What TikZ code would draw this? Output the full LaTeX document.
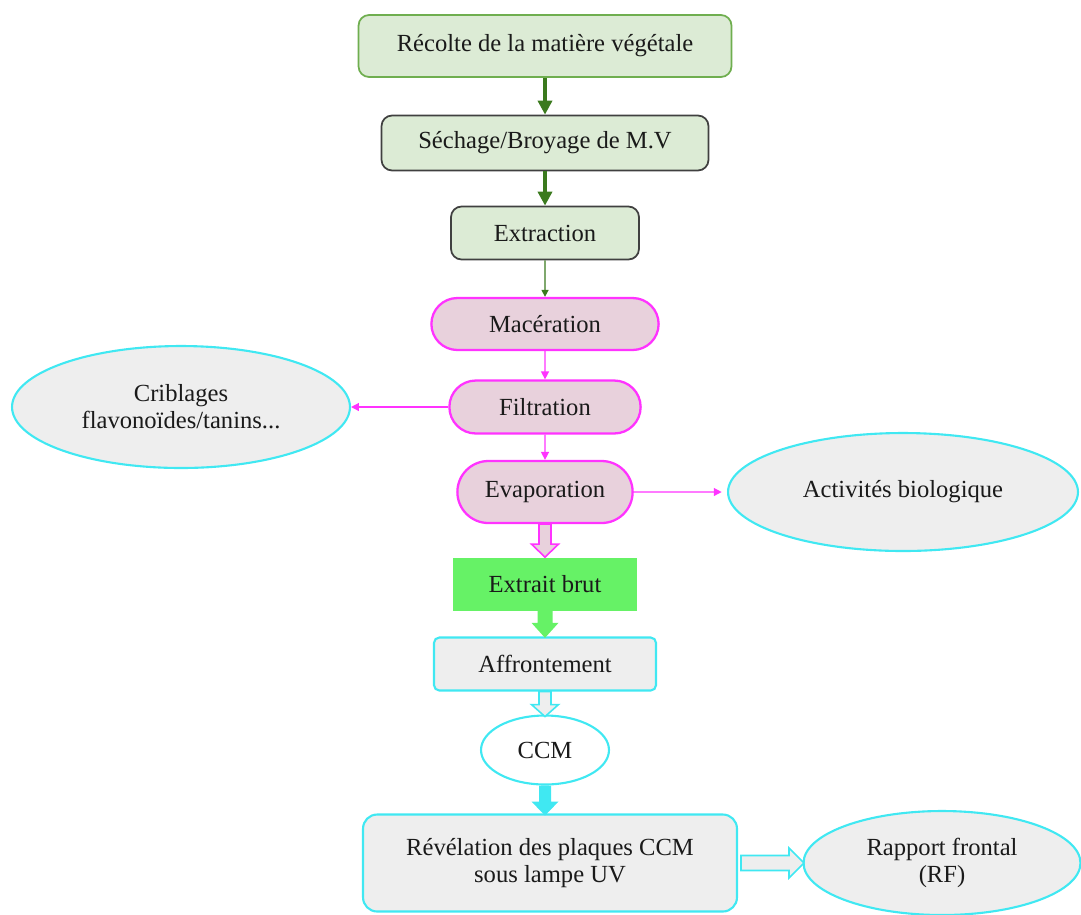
\documentclass[tikz,border=0pt]{standalone}
\usepackage{fontspec}
\setmainfont{Liberation Serif}
\usetikzlibrary{arrows.meta,shapes.geometric,shapes.misc}

\definecolor{leaffill}{HTML}{DCEBD5}
\definecolor{leafline}{HTML}{6FAE4F}
\definecolor{darkline}{HTML}{404040}
\definecolor{arrowgreen}{HTML}{3B7A1E}
\definecolor{magline}{HTML}{FF33FF}
\definecolor{pillfill}{HTML}{E8D1DC}
\definecolor{cyanline}{HTML}{40E8F2}
\definecolor{ovalfill}{HTML}{EEEEEE}
\definecolor{brutgreen}{HTML}{66F266}
\definecolor{ink}{HTML}{1A1A1A}

\tikzset{
  every node/.style={font=\fontsize{14}{15.5}\selectfont,text=ink},
  leafbox/.style={fill=leaffill,rounded corners=6pt,line width=1pt},
  pinkpill/.style={rounded rectangle,draw=magline,fill=pillfill,line width=1.3pt},
  grayoval/.style={ellipse,draw=cyanline,fill=ovalfill,line width=1.2pt,align=center},
  cyanbox/.style={draw=cyanline,fill=ovalfill,line width=1.2pt,align=center},
  greenarrow/.style={draw=arrowgreen,line width=2.2pt,-{Triangle[width=8pt,length=8pt]}},
  thingreen/.style={draw=arrowgreen,line width=0.8pt,-{Triangle[width=4pt,length=4pt]}},
  magarrow/.style={draw=magline,line width=0.8pt,-{Triangle[width=4.5pt,length=4.5pt]}},
  hollowarrow/.style={line width=0.9pt,line join=miter}
}

\begin{document}
\begin{tikzpicture}[x=0.02cm,y=-0.02cm]
\useasboundingbox (0,0) rectangle (1081,914);

% main column
\node[leafbox,draw=leafline,minimum width=7.46cm,minimum height=1.24cm] (recolte) at (545,46) {Récolte de la matière végétale};
\node[leafbox,draw=darkline,minimum width=6.54cm,minimum height=1.1cm] (sechage) at (545,143) {Séchage/Broyage de M.V};
\node[leafbox,draw=darkline,minimum width=3.76cm,minimum height=1.06cm] (extraction) at (545,233) {Extraction};
\node[pinkpill,minimum width=4.78cm,minimum height=1.04cm] (maceration) at (545,324) {Macération};
\node[pinkpill,minimum width=4.06cm,minimum height=1.06cm] (filtration) at (545,407) {Filtration};
\node[pinkpill,minimum width=3.74cm,minimum height=1.24cm] (evaporation) at (545,492) {Evaporation};
\node[fill=brutgreen,minimum width=3.7cm,minimum height=1.06cm] (brut) at (545,584) {Extrait brut};
\node[cyanbox,rounded corners=3pt,minimum width=4.44cm,minimum height=1.06cm] (affront) at (545,664) {Affrontement};
\node[ellipse,draw=cyanline,fill=white,line width=1.2pt,minimum width=2.56cm,minimum height=1.38cm] (ccm) at (545,750) {CCM};
\node[cyanbox,rounded corners=8pt,minimum width=7.48cm,minimum height=1.94cm] (revelation) at (550,863) {Révélation des plaques CCM\\sous lampe UV};

% side ovals
\node[grayoval,minimum width=6.76cm,minimum height=2.44cm] (criblages) at (181,407) {Criblages\\flavonoïdes/tanins...};
\node[grayoval,minimum width=7cm,minimum height=2.36cm] (activites) at (903,492) {Activités biologique};
\node[grayoval,minimum width=5.54cm,minimum height=2.08cm] (rapport) at (942,863) {Rapport frontal\\(RF)};

% thin arrows
\draw[greenarrow](recolte)--(sechage);
\draw[greenarrow](sechage)--(extraction);
\draw[thingreen](extraction)--(maceration);
\draw[magarrow](maceration)--(filtration);
\draw[magarrow](filtration)--(evaporation);
\draw[magarrow](filtration)--(criblages);
\draw[magarrow,shorten >=3pt](evaporation)--(activites);

% block arrows
\draw[hollowarrow,draw=magline,fill=pillfill](evaporation.south)++(-6,0)--++(0,20)--++(-7.5,0)--++(13.5,13)--++(13.5,-13)--++(-7.5,0)--++(0,-20)--cycle;
\fill[brutgreen](brut.south)++(-7.5,0)--++(0,12)--++(-6,0)--++(13.5,15)--++(13.5,-15)--++(-6,0)--++(0,-12)--cycle;
\draw[hollowarrow,draw=cyanline,fill=ovalfill](affront.south)++(-6,0)--++(0,13)--++(-7.5,0)--++(13.5,12)--++(13.5,-12)--++(-7.5,0)--++(0,-13)--cycle;
\fill[cyanline](ccm.south)++(-6,0)--++(0,16)--++(-7.5,0)--++(13.5,14)--++(13.5,-14)--++(-7.5,0)--++(0,-16)--cycle;
\draw[hollowarrow,draw=cyanline,fill=ovalfill](revelation.east)++(3,-7.5)--++(48,0)--++(0,-7.5)--++(15,15)--++(-15,15)--++(0,-7.5)--++(-48,0)--cycle;
\end{tikzpicture}
\end{document}
